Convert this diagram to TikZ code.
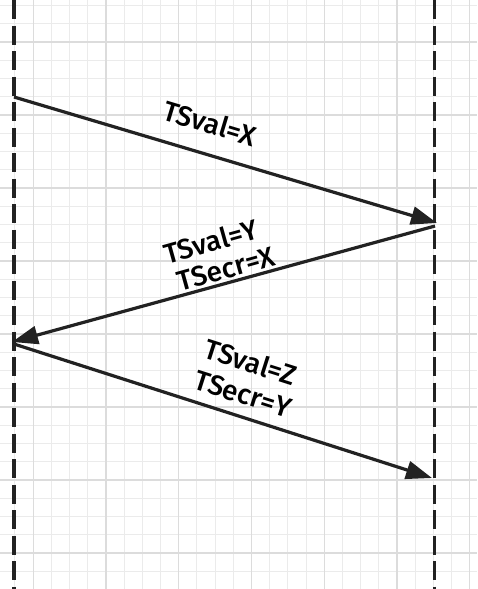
\documentclass[tikz,border=0pt]{standalone}
\usepackage{fontspec}
\setmainfont{Liberation Sans}
\newfontfamily\lblfont{Fira Sans}[UprightFont={* Medium}]
\usetikzlibrary{arrows.meta}
\definecolor{ink}{HTML}{222222}
\definecolor{minorgrid}{HTML}{EBEBEB}
\definecolor{majorgrid}{HTML}{DCDCDC}
\tikzset{
  minorline/.style={draw=minorgrid,line width=1pt},
  majorline/.style={draw=majorgrid,line width=1.2pt},
  lifeline/.style={draw=ink,line width=3.5pt,dash pattern=on 19pt off 6.5pt},
  msg/.style={draw=ink,line width=3.2pt,-{Triangle[length=26pt,width=18pt]},shorten >=0pt},
  lbl/.style={font=\lblfont\fontsize{28}{30}\selectfont,text=black,inner sep=0pt}
}
\begin{document}
\begin{tikzpicture}[x=1pt,y=-1pt]
\useasboundingbox (0,0) rectangle (477,589);
\fill[white] (0,0) rectangle (477,589);
% grid
\begin{scope}
\clip (0,0) rectangle (477,589);
\foreach \k in {0,...,27} {
  \pgfmathsetmacro{\xx}{-3.2+18.19*\k}
  \draw[minorline] (\xx,0) -- (\xx,589);
}
\foreach \k in {0,...,34} {
  \pgfmathsetmacro{\yy}{-12.75+18.25*\k}
  \draw[minorline] (0,\yy) -- (477,\yy);
}
\foreach \k in {0,...,6} {
  \pgfmathsetmacro{\xx}{33.2+72.76*\k}
  \draw[majorline] (\xx,0) -- (\xx,589);
}
\foreach \k in {0,...,7} {
  \pgfmathsetmacro{\yy}{42+73*\k}
  \draw[majorline] (0,\yy) -- (477,\yy);
}
\end{scope}
% lifelines
\coordinate (Ltop) at (14,0);
\coordinate (Lbot) at (14,589);
\coordinate (Rtop) at (434.5,0);
\coordinate (Rbot) at (434.5,589);
\draw[lifeline] (Ltop) -- (Lbot);
\draw[lifeline] (Rtop) -- (Rbot);
% message endpoints
\coordinate (a1) at (14,97);
\coordinate (b1) at (437,223);
\coordinate (a2) at (435,226);
\coordinate (b2) at (12,342);
\coordinate (a3) at (14,344);
\coordinate (b3) at (432,478);
\draw[msg] (a1) -- (b1);
\draw[msg] (a2) -- (b2);
\draw[msg] (a3) -- (b3);
% labels
\node[lbl,rotate=-16.8] (l1) at (210,123) {TSval=X};
\node[lbl,rotate=15.6] (l2) at (211,241) {TSval=Y};
\node[lbl,rotate=15.6] (l3) at (226,269) {TSecr=X};
\node[lbl,rotate=-17.7] (l4) at (251,362) {TSval=Z};
\node[lbl,rotate=-17.7] (l5) at (243,394) {TSecr=Y};
\end{tikzpicture}
\end{document}
